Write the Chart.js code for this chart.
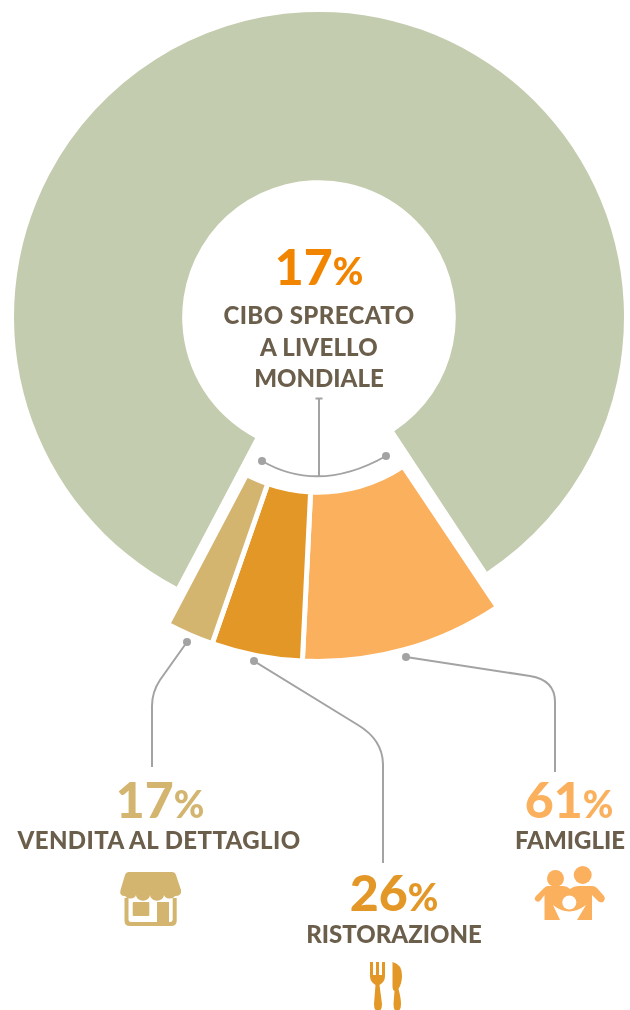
<!DOCTYPE html>
<html lang="it">
<head>
<meta charset="utf-8">
<title>Cibo sprecato a livello mondiale</title>
<script src="https://cdn.jsdelivr.net/npm/chart.js@4/dist/chart.umd.min.js"></script>
<style>
    html, body { margin: 0; padding: 0; background: #fff; overflow: hidden; }
    #wrap { position: relative; width: 630px; height: 1010px; overflow: hidden; }
    canvas, svg { position: absolute; left: 0; top: 0; }
    .t { position: absolute; white-space: nowrap; text-align: center; transform: translateX(-50%); font-family: Lato, sans-serif; }
    .num { font-size: 50px; font-weight: 900; line-height: 50px; }
    .num small { font-size: 37px; font-weight: 900; }
    .lab { font-size: 24px; font-weight: 900; line-height: 24px; color: #6b5e4b; }
</style>
</head>
<body>
<div id="wrap">
    <canvas id="ringChart" width="630" height="1010"></canvas>
    <canvas id="sectorChart" width="630" height="1010"></canvas>

    <svg width="630" height="1010" viewBox="0 0 630 1010">
        <!-- linee di richiamo -->
        <g fill="none" stroke="#a3a3a3" stroke-width="2">
            <path d="M315.5 398.5H322.5M319 398.5V477"/>
            <path d="M262 461Q319 494 386 456"/>
            <path d="M187 642L160 680Q152 692 152 706V767"/>
            <path d="M254 661L358 725Q383 740 383 765V863"/>
            <path d="M406 657L530 676Q555 680 555 702V772"/>
        </g>
        <g fill="#a3a3a3">
            <circle cx="262" cy="461" r="4"/>
            <circle cx="386" cy="456" r="4"/>
            <circle cx="187" cy="642" r="4"/>
            <circle cx="254" cy="661" r="4"/>
            <circle cx="406" cy="657" r="4"/>
        </g>
        <!-- negozio -->
        <g fill="#d3b570">
            <path d="M129 872H172Q175 872 176 875L181 890Q182 896 175 896a6 5 0 0 1-11 -1a6 5 0 0 1-14 0a6 5 0 0 1-14 0a6 5 0 0 1-11 1Q119 896 120.500 890L125 875Q126 872 129 872Z"/>
            <path d="M124.500 898H128.500V919Q128.500 922 131 922H157V902H169V922H170Q172.700 922 172.700 919V898H176.700V921Q176.700 926 171 926H130Q124.500 926 124.500 921Z"/>
            <rect x="132.700" y="902" width="16.600" height="14" rx="1"/>
        </g>
        <!-- posate -->
        <g fill="#e39726">
            <path d="M370 962H373V975H376V962H379V975H382V962H385V976Q385 982 379.500 985L382 1004Q382 1011 378 1011Q374 1011 374 1004L375.500 985Q370 982 370 976Z"/>
            <path d="M392.500 962Q402 964 402 976Q402 983 398.500 989Q401 998 401 1004Q401 1011 397 1011Q393.500 1011 393.500 1004L394.500 991Q392.500 990 392.500 987Z"/>
        </g>
        <!-- famiglia -->
        <g fill="#fbb05e">
            <circle cx="555.500" cy="878.500" r="8.500"/>
            <circle cx="582.700" cy="875" r="9"/>
            <path d="M548 886H563Q567 886 570 889Q574 886 578 886H592Q595 886 597 888L604 896Q606 899 603 902Q600 903 598 901L592 895V920H577L586 905Q569 918 553 905L560 920H544.500V895L540 901Q537 903 535 900Q534 898 536 896L544 888Q546 886 548 886Z"/>
            <circle cx="569.300" cy="902.500" r="7" fill="#fff"/>
        </g>
    </svg>

    <div class="t num" id="numWorld" style="left:319px; top:241px; color:#f28500"></div>
    <div class="t lab" style="left:319px; top:303px; letter-spacing:0.4px">CIBO SPRECATO</div>
    <div class="t lab" style="left:319px; top:335px; letter-spacing:0.2px">A LIVELLO</div>
    <div class="t lab" style="left:319px; top:366px">MONDIALE</div>

    <div class="t num" id="numRetail" style="left:160px; top:774px; color:#d3b570"></div>
    <div class="t lab" style="left:159px; top:828px; letter-spacing:0.4px"></div>

    <div class="t num" id="numFood" style="left:394px; top:867px; color:#e39726"></div>
    <div class="t lab" style="left:394px; top:922px"></div>

    <div class="t num" id="numHome" style="left:569px; top:774px; color:#fbb05e"></div>
    <div class="t lab" style="left:570px; top:828px"></div>
</div>

<script>
// Dati della torta
const worldLabels = ['Cibo consumato', 'Cibo sprecato'];
const worldShares = [83, 17];
const sectorLabels = ['FAMIGLIE', 'RISTORAZIONE', 'VENDITA AL DETTAGLIO', ''];
const sectorArcs = [10.16, 4.55, 2.4, 82.89]; // parte di cerchio, l'ultima è vuota
const sectorPercent = [61, 26, 17];
const worldPercent = 17;

const ringColors = ['#c3ccae', 'rgba(0,0,0,0)'];
const sectorColors = ['#fbb05e', '#e39726', '#d3b570', 'rgba(0,0,0,0)'];
const sectorBorders = [5, 5, 5, 0];

// Opzioni comuni: niente legenda, niente animazione, canvas a misura fissa
function baseOptions(rotation, radius, cutout, padding) {
    return {
        responsive: false,
        animation: false,
        rotation: rotation,
        radius: radius,
        cutout: cutout,
        layout: { padding: padding },
        plugins: { legend: { display: false }, tooltip: { enabled: false } }
    };
}

// Anello verde
new Chart(document.getElementById('ringChart'), {
    type: 'doughnut',
    data: {
        labels: worldLabels,
        datasets: [{ data: worldShares, backgroundColor: ringColors, borderWidth: 0 }]
    },
    options: baseOptions(207.8, 305, 139.5, { left: 8, top: 0, right: 0, bottom: 376 })
});

// Spicchio staccato con i tre settori, il bordo bianco fa da stacco
new Chart(document.getElementById('sectorChart'), {
    type: 'doughnut',
    data: {
        labels: sectorLabels,
        datasets: [{
            data: sectorArcs,
            backgroundColor: sectorColors,
            borderColor: '#ffffff',
            borderWidth: sectorBorders,
            borderJoinStyle: 'miter'
        }]
    },
    options: baseOptions(146.2, 322.5, 147, { left: 6, top: 0, right: 0, bottom: 332 })
});

// Testi con i numeri
function setPercent(id, value) {
    document.getElementById(id).innerHTML = value + '<small>%</small>';
}
setPercent('numWorld', worldPercent);
setPercent('numHome', sectorPercent[0]);
setPercent('numFood', sectorPercent[1]);
setPercent('numRetail', sectorPercent[2]);

const labelBoxes = document.querySelectorAll('.lab:empty');
labelBoxes[0].textContent = sectorLabels[2];
labelBoxes[1].textContent = sectorLabels[1];
labelBoxes[2].textContent = sectorLabels[0];
</script>
</body>
</html>
